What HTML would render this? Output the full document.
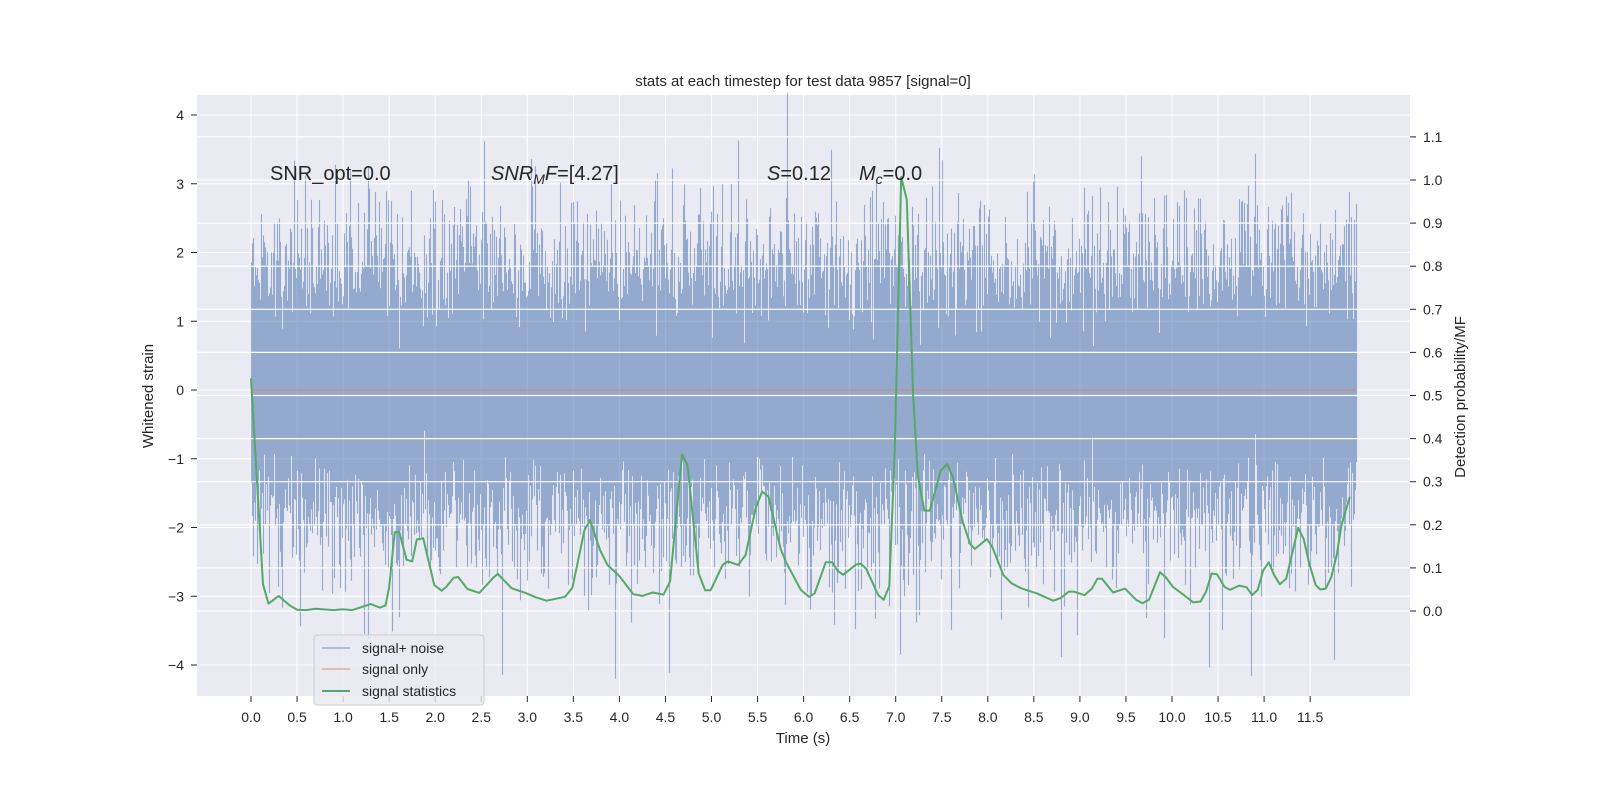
<!DOCTYPE html>
<html><head><meta charset="utf-8"><style>
html,body{margin:0;padding:0;background:#fff;}
svg{display:block;font-family:"Liberation Sans","DejaVu Sans",sans-serif;}
</style></head><body>
<svg id="chart" width="1600" height="800" viewBox="0 0 1600 800">
<rect x="197" y="95" width="1213" height="601" fill="#eaeaf2"/>
<g id="leftgrid"></g>
<g id="noise"></g>
<g id="signal"></g>
<g id="rightgrid"></g>
<g id="stats"></g>
<g id="axes"></g>
<text x="803" y="86" text-anchor="middle" font-size="15" fill="#262626">stats at each timestep for test data 9857 [signal=0]</text>
<text x="803" y="743" text-anchor="middle" font-size="15" fill="#262626">Time (s)</text>
<text transform="translate(153,396) rotate(-90)" text-anchor="middle" font-size="15" fill="#262626">Whitened strain</text>
<text transform="translate(1465,397) rotate(-90)" text-anchor="middle" font-size="15" fill="#262626">Detection probability/MF</text>
<text x="270" y="180" font-size="20" fill="#262626">SNR_opt=0.0</text>
<text x="491" y="180" font-size="20" fill="#262626"><tspan font-style="italic">SNR</tspan><tspan font-style="italic" font-size="14" dy="4">M</tspan><tspan font-style="italic" dy="-4">F</tspan>=[4.27]</text>
<text x="767" y="180" font-size="20" fill="#262626"><tspan font-style="italic">S</tspan>=0.12</text>
<text x="859" y="180" font-size="20" fill="#262626"><tspan font-style="italic">M</tspan><tspan font-style="italic" font-size="14" dy="4">c</tspan><tspan dy="-4">=0.0</tspan></text>
<g>
<rect x="314" y="635" width="170" height="70" rx="3" fill="#eaeaf2" fill-opacity="0.8" stroke="#cccccc"/>
<line x1="322" y1="648" x2="350" y2="648" stroke="#4c72b0" stroke-opacity="0.5" stroke-width="1.5"/>
<text x="362" y="653" font-size="14" fill="#262626">signal+ noise</text>
<line x1="322" y1="669" x2="350" y2="669" stroke="#dd8452" stroke-opacity="0.6" stroke-width="1.5"/>
<text x="362" y="674" font-size="14" fill="#262626">signal only</text>
<line x1="322" y1="691" x2="350" y2="691" stroke="#55a868" stroke-width="2"/>
<text x="362" y="696" font-size="14" fill="#262626">signal statistics</text>
</g>
</svg>
<script>
const statTimes = [0,0.13,0.19,0.30,0.42,0.5,0.6,0.7,0.9,1.0,1.1,1.3,1.4,1.46,1.50,1.56,1.61,1.69,1.75,1.80,1.87,1.99,2.07,2.12,2.20,2.25,2.35,2.48,2.63,2.68,2.83,2.98,3.09,3.21,3.41,3.49,3.62,3.68,3.79,3.87,4.00,4.15,4.25,4.36,4.48,4.55,4.68,4.74,4.86,4.93,4.99,5.12,5.18,5.29,5.37,5.48,5.55,5.62,5.75,5.81,5.97,6.06,6.12,6.24,6.31,6.37,6.43,6.57,6.62,6.68,6.81,6.87,6.93,6.99,7.06,7.12,7.19,7.24,7.31,7.37,7.49,7.56,7.62,7.73,7.81,7.86,7.99,8.05,8.17,8.26,8.37,8.53,8.71,8.79,8.88,8.93,9.05,9.13,9.19,9.24,9.36,9.49,9.61,9.68,9.75,9.87,9.93,10.01,10.13,10.23,10.31,10.37,10.43,10.49,10.57,10.63,10.73,10.81,10.87,10.93,10.99,11.05,11.11,11.17,11.24,11.37,11.43,11.49,11.56,11.61,11.67,11.73,11.79,11.84,11.93];
const statValues = [0.54,0.062,0.017,0.035,0.013,0.003,0.002,0.005,0.002,0.004,0.002,0.016,0.008,0.013,0.054,0.183,0.183,0.119,0.115,0.166,0.169,0.06,0.047,0.056,0.077,0.079,0.051,0.042,0.077,0.086,0.053,0.042,0.032,0.024,0.033,0.054,0.187,0.211,0.141,0.107,0.081,0.039,0.035,0.043,0.038,0.069,0.363,0.338,0.088,0.048,0.048,0.107,0.115,0.107,0.13,0.239,0.277,0.265,0.144,0.113,0.049,0.033,0.041,0.113,0.113,0.093,0.084,0.108,0.11,0.098,0.037,0.026,0.058,0.376,1.007,0.954,0.497,0.315,0.233,0.233,0.326,0.341,0.311,0.205,0.155,0.144,0.167,0.148,0.083,0.064,0.052,0.041,0.024,0.03,0.045,0.045,0.037,0.052,0.075,0.075,0.043,0.052,0.026,0.018,0.026,0.09,0.079,0.056,0.037,0.02,0.022,0.045,0.087,0.085,0.056,0.049,0.059,0.055,0.037,0.049,0.094,0.113,0.083,0.062,0.075,0.193,0.167,0.11,0.06,0.05,0.052,0.079,0.132,0.2,0.265];
const xTicks = [0,0.5,1,1.5,2,2.5,3,3.5,4,4.5,5,5.5,6,6.5,7,7.5,8,8.5,9,9.5,10,10.5,11,11.5];
const leftTicks = [-4,-3,-2,-1,0,1,2,3,4];
const rightTicks = [0,0.1,0.2,0.3,0.4,0.5,0.6,0.7,0.8,0.9,1.0,1.1];
const signalOnly = [0,0];
const noiseDuration = 12;

const NS = "http://www.w3.org/2000/svg";
const X = t => 251 + t * 92.1;
const YL = v => 390 - v * 68.75;
const YR = v => 611 - v * 431;
function mk(tag, attrs, parent){const e=document.createElementNS(NS,tag);for(const k in attrs)e.setAttribute(k,attrs[k]);parent.appendChild(e);return e;}
const axes=document.getElementById('axes'), lg=document.getElementById('leftgrid'), rg=document.getElementById('rightgrid');

xTicks.forEach(t=>{
  const l=mk('line',{x1:X(t),x2:X(t),y1:95,y2:696,stroke:'#fff','stroke-width':1},lg);
  
  
  const tk=mk('line',{x1:X(t),x2:X(t),y1:696,y2:702,stroke:'#262626','stroke-width':1},axes);
  
  
  const tx=mk('text',{x:X(t),y:722,'text-anchor':'middle','font-size':14,fill:'#262626'},axes);
  tx.textContent=t.toFixed(1);
  
  
});
leftTicks.forEach(v=>{
  const l=mk('line',{x1:197,x2:1410,y1:YL(v),y2:YL(v),stroke:'#fff','stroke-width':1},lg);
  
  
  const tk=mk('line',{x1:191,x2:197,y1:YL(v),y2:YL(v),stroke:'#262626'},axes);
  
  
  const tx=mk('text',{x:184,y:YL(v)+5,'text-anchor':'end','font-size':14,fill:'#262626'},axes);
  tx.textContent=(v<0?'\u2212'+(-v):String(v));
  
  
});
rightTicks.forEach(v=>{
  const l=mk('line',{x1:197,x2:1410,y1:YR(v),y2:YR(v),stroke:'#fff','stroke-width':1.2},rg);
  
  
  const tk=mk('line',{x1:1410,x2:1416,y1:YR(v),y2:YR(v),stroke:'#262626'},axes);
  
  
  const tx=mk('text',{x:1423,y:YR(v)+5,'font-size':14,fill:'#262626'},axes);
  tx.textContent=v.toFixed(1);
  
  
});

// noise texture (seeded gaussian, ~22 samples per pixel column)
let seed=9857;
function rnd(){seed=(seed*1664525+1013904223)>>>0;return seed/4294967296;}
function gauss(){let u=rnd()||1e-9,v=rnd();return Math.sqrt(-2*Math.log(u))*Math.cos(2*Math.PI*v);}
const ng=document.getElementById('noise');
let d='';
const x0=X(0), x1=X(noiseDuration);
for(let px=x0;px<x1;px+=1){
  let mn=1e9,mx=-1e9;
  for(let k=0;k<22;k++){const g=gauss();if(g<mn)mn=g;if(g>mx)mx=g;}
  d+=`M${(px+0.5).toFixed(1)} ${YL(mx).toFixed(1)}V${YL(mn).toFixed(1)}`;
}
const np=mk('path',{d:d,stroke:'#4c72b0','stroke-opacity':0.55,'stroke-width':1.1,fill:'none'},ng);



const sg=document.getElementById('signal');
const so=mk('line',{x1:X(0),x2:X(noiseDuration),y1:YL(signalOnly[0]),y2:YL(signalOnly[1]),stroke:'#dd8452','stroke-opacity':0.6,'stroke-width':1.5},sg);



const st=document.getElementById('stats');
const pts=statTimes.map((t,i)=>X(t).toFixed(1)+','+YR(statValues[i]).toFixed(1)).join(' ');
const pl=mk('polyline',{points:pts,fill:'none',stroke:'#55a868','stroke-width':2,'stroke-linejoin':'round'},st);


</script>
</body></html>
